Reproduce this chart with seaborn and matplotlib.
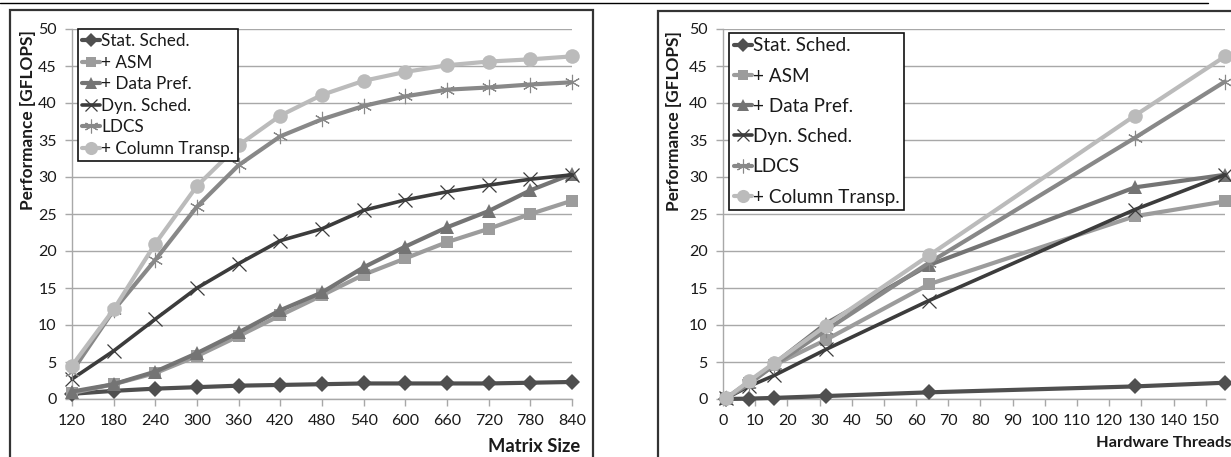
import numpy as np
import pandas as pd
import matplotlib
matplotlib.use("Agg")
import matplotlib.pyplot as plt
from matplotlib.patches import Rectangle
from matplotlib.lines import Line2D
import seaborn as sns

sns.set_style("white")
plt.rcParams["font.family"] = ["Lato", "DejaVu Sans"]

# ---- data -------------------------------------------------------------
series_names = ["Stat. Sched.", "+ ASM", "+ Data Pref.", "Dyn. Sched.", "LDCS", "+ Column Transp."]

matrix_sizes = [120, 180, 240, 300, 360, 420, 480, 540, 600, 660, 720, 780, 840]
size_stat = [0.7, 1.1, 1.4, 1.6, 1.8, 1.9, 2.0, 2.1, 2.1, 2.1, 2.1, 2.2, 2.3]
size_asm = [0.8, 2.0, 3.5, 5.8, 8.5, 11.3, 14.0, 16.8, 19.0, 21.2, 23.0, 25.0, 26.8]
size_pref = [1.0, 2.0, 3.7, 6.2, 9.0, 12.0, 14.4, 17.8, 20.6, 23.2, 25.4, 28.2, 30.4]
size_dyn = [2.7, 6.5, 10.8, 15.0, 18.3, 21.4, 23.0, 25.5, 26.9, 28.0, 28.9, 29.7, 30.3]
size_ldcs = [3.7, 12.0, 18.8, 26.0, 31.6, 35.5, 37.8, 39.6, 40.9, 41.8, 42.1, 42.5, 42.8]
size_coltr = [4.5, 12.1, 21.0, 28.8, 34.3, 38.3, 41.1, 43.0, 44.2, 45.1, 45.6, 45.9, 46.3]

threads = [1, 8, 16, 32, 64, 128, 156]
thr_stat = [0.0, 0.05, 0.15, 0.4, 0.9, 1.7, 2.2]
thr_asm = [0.1, 2.2, 4.6, 8.0, 15.5, 24.7, 26.7]
thr_pref = [0.1, 2.3, 4.8, 10.2, 18.1, 28.6, 30.3]
thr_dyn = [0.1, 1.7, 3.2, 6.7, 13.3, 25.6, 30.3]
thr_ldcs = [0.1, 2.0, 4.6, 9.3, 18.4, 35.3, 42.9]
thr_coltr = [0.1, 2.4, 4.9, 9.9, 19.4, 38.3, 46.3]

size_ticks = matrix_sizes
thread_ticks = list(range(0, 151, 10))
y_ticks = list(range(0, 51, 5))

# ---- styles -----------------------------------------------------------
styles = {
    "Stat. Sched.":     dict(color="#4f4f4f", marker="D", ms=8.0, mew=0.0, lw=3.0),
    "+ ASM":            dict(color="#9c9c9c", marker="s", ms=8.5, mew=0.0, lw=3.0),
    "+ Data Pref.":     dict(color="#747474", marker="^", ms=10.0, mew=0.0, lw=3.0),
    "Dyn. Sched.":      dict(color="#3c3c3c", marker="x", ms=10.0, mew=0.9, lw=2.6),
    "LDCS":             dict(color="#888888", marker=(6, 2, 0), ms=11.0, mew=0.8, lw=3.0),
    "+ Column Transp.": dict(color="#bbbbbb", marker="o", ms=10.5, mew=0.0, lw=3.0),
}


def long_frame(x, columns):
    rows = []
    for name, vals in zip(series_names, columns):
        for xv, yv in zip(x, vals):
            rows.append((name, xv, yv))
    return pd.DataFrame(rows, columns=["series", "x", "y"])


df_size = long_frame(matrix_sizes, [size_stat, size_asm, size_pref, size_dyn, size_ldcs, size_coltr])
df_thr = long_frame(threads, [thr_stat, thr_asm, thr_pref, thr_dyn, thr_ldcs, thr_coltr])

W, H = 1231, 457
fig = plt.figure(figsize=(W / 100, H / 100), dpi=100)


def fx(px):
    return px / W


def fy(py):
    return 1 - py / H


ax1 = fig.add_axes([fx(72), fy(399), fx(572) - fx(72), fy(29) - fy(399)])
ax2 = fig.add_axes([fx(723), fy(399), fx(1225) - fx(723), fy(29) - fy(399)])

grid_c = "#a8a8a8"
text_c = "#1a1a1a"


def draw_panel(ax, df, xlim, xticks, legend_fs, legend_spacing, handle_len, legend_bbox):
    handles = []
    for name in series_names:
        st = styles[name]
        sub = df[df["series"] == name]
        sns.lineplot(data=sub, x="x", y="y", ax=ax, color=st["color"], lw=st["lw"],
                     marker=st["marker"], markersize=st["ms"], markeredgewidth=st["mew"],
                     markeredgecolor=st["color"], markerfacecolor=st["color"],
                     estimator=None, sort=False, legend=False, clip_on=False, zorder=3)
        handles.append(Line2D([], [], color=st["color"], lw=st["lw"], marker=st["marker"],
                              markersize=st["ms"] * 0.9, markeredgewidth=st["mew"],
                              markeredgecolor=st["color"], markerfacecolor=st["color"]))
    ax.set_xlim(*xlim)
    ax.set_ylim(0, 50)
    ax.set_xticks(xticks)
    ax.set_yticks(y_ticks)
    ax.yaxis.grid(True, color=grid_c, lw=1.0)
    ax.xaxis.grid(False)
    for s in ["top", "right"]:
        ax.spines[s].set_visible(False)
    for s in ["left", "bottom"]:
        ax.spines[s].set_color(grid_c)
        ax.spines[s].set_linewidth(1.0)
    ax.tick_params(axis="both", which="major", direction="out", length=5, width=1.0,
                   color=grid_c, labelsize=11.5, labelcolor=text_c,
                   bottom=True, left=True)
    ax.tick_params(axis="y", pad=6)
    ax.tick_params(axis="x", pad=6)
    ax.set_xlabel("")
    ax.set_ylabel("")
    leg = ax.legend(handles, series_names, loc="upper left", bbox_to_anchor=legend_bbox,
                    fontsize=legend_fs, frameon=True, fancybox=False, borderpad=0.25,
                    labelspacing=legend_spacing, handlelength=handle_len, handletextpad=0.05,
                    borderaxespad=0.0)
    for t in leg.get_texts():
        t.set_color(text_c)
    leg.get_frame().set_edgecolor("#111111")
    leg.get_frame().set_linewidth(1.2)
    leg.get_frame().set_facecolor("white")
    leg.get_frame().set_alpha(1.0)
    leg.set_zorder(5)


draw_panel(ax1, df_size, (120, 840), size_ticks, 12.3, 0.32, 1.05, (0.012, 1.0))
draw_panel(ax2, df_thr, (0, 156), thread_ticks, 13.6, 0.7, 0.95, (0.012, 0.99))

# axis titles
ax1.text(-0.088, 0.755, "Performance [GFLOPS]", transform=ax1.transAxes, rotation=90,
         ha="center", va="center", fontsize=12.4, fontweight="bold", color=text_c)
ax2.text(-0.098, 0.75, "Performance [GFLOPS]", transform=ax2.transAxes, rotation=90,
         ha="center", va="center", fontsize=12.4, fontweight="bold", color=text_c)
fig.text(fx(580), fy(446), "Matrix Size", ha="right", va="center",
         fontsize=13.2, fontweight="bold", color=text_c)
fig.text(fx(1231), fy(443), "Hardware Threads", ha="right", va="center",
         fontsize=11.8, fontweight="bold", color=text_c)

# page frames
fig.add_artist(Line2D([0, fx(1208)], [fy(2.5), fy(2.5)], color="black", lw=1.0))
fig.add_artist(Rectangle((fx(10), fy(470)), fx(593) - fx(10), fy(10) - fy(470),
                         fill=False, edgecolor="#333333", lw=1.6))
fig.add_artist(Rectangle((fx(658), fy(470)), fx(1250) - fx(658), fy(11) - fy(470),
                         fill=False, edgecolor="#333333", lw=1.6))

fig.savefig("out.png", dpi=100, facecolor="white")
